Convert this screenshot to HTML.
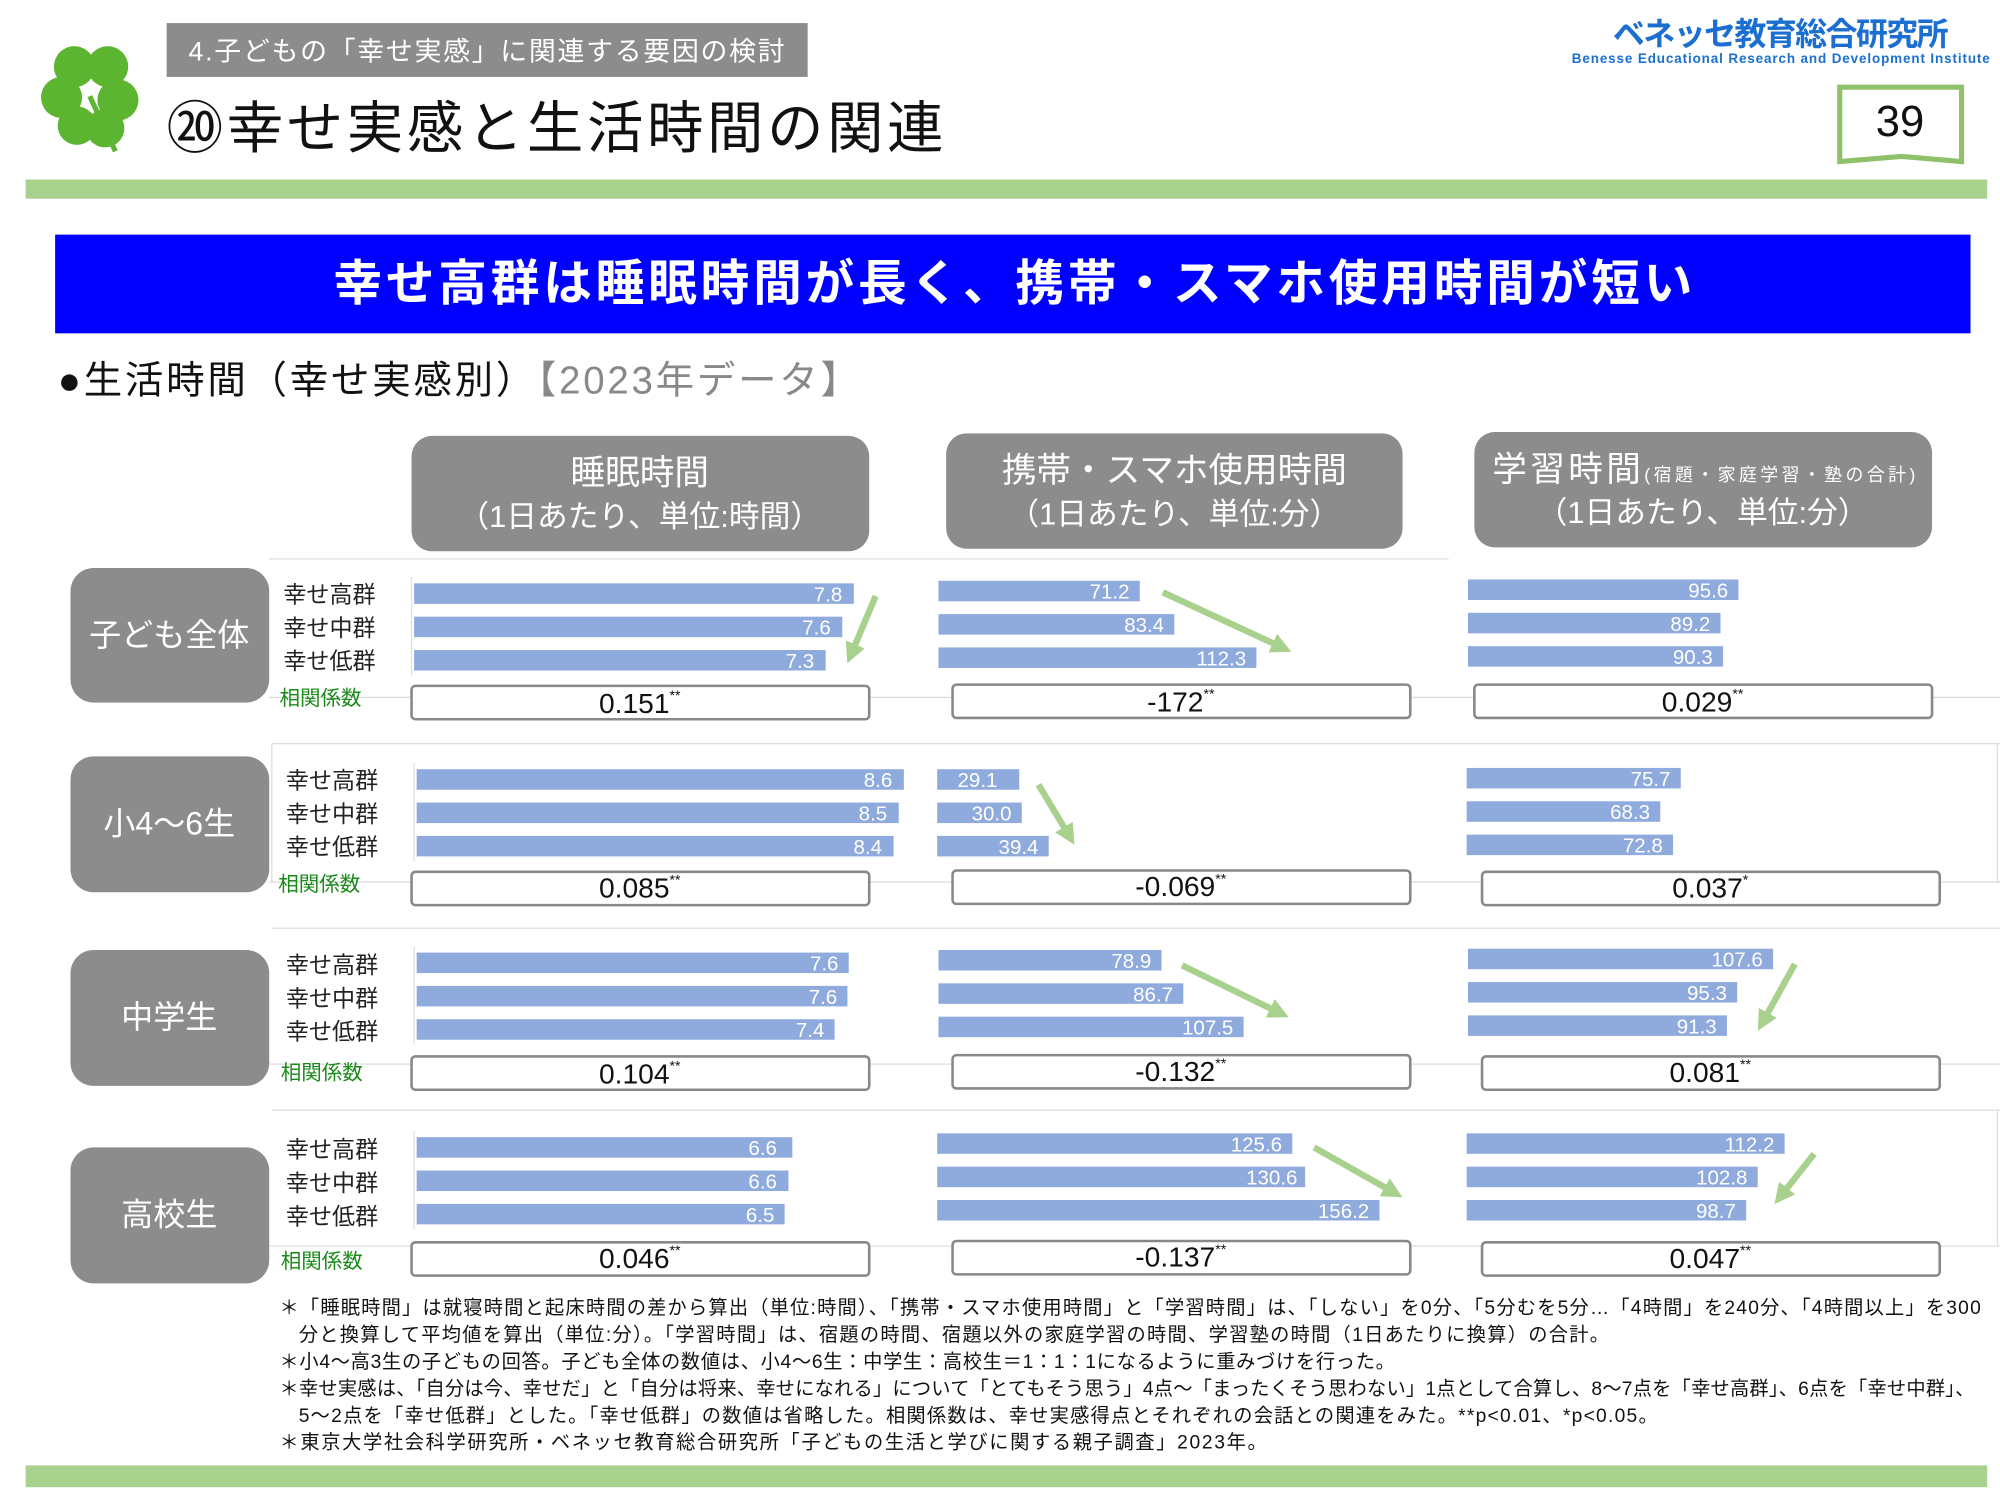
<!DOCTYPE html>
<html><head><meta charset="utf-8"><style>
html,body{margin:0;padding:0;background:#fff;width:2000px;height:1500px;overflow:hidden}
svg text{font-family:"Liberation Sans","Noto Sans CJK JP",sans-serif}
</style></head><body>
<svg width="2000" height="1500" viewBox="0 0 1560 1170" xmlns="http://www.w3.org/2000/svg">
<defs>
<marker id="ah" viewBox="0 0 10 10" refX="5" refY="5" markerWidth="3.2" markerHeight="3.2" orient="auto"><path d="M0,0 L10,5 L0,10 z" fill="#a9d18e"/></marker>
</defs>
<rect width="1560" height="1170" fill="#fff"/>
<g fill="#5cb531">
<circle cx="58" cy="52" r="16"/><circle cx="84" cy="52" r="16"/><circle cx="48" cy="76" r="16"/><circle cx="92" cy="78" r="16"/><circle cx="60" cy="98" r="15"/><circle cx="82" cy="100" r="15"/>
</g>
<path d="M70,75 L90,118" stroke="#5cb531" stroke-width="4"/>
<rect x="130" y="18" width="500" height="42" fill="#8c8c8c"/>
<text x="147" y="47" font-size="21" fill="#fff" textLength="465">4.子どもの「幸せ実感」に関連する要因の検討</text>
<text x="130" y="115" font-size="44" fill="#111" textLength="606">⑳幸せ実感と生活時間の関連</text>
<text x="1258" y="35" font-size="25" fill="#1a6fd0" font-weight="bold" textLength="262">ベネッセ教育総合研究所</text>
<text x="1226" y="49" font-size="10.5" fill="#1a6fd0" font-weight="bold" textLength="326">Benesse  Educational Research and Development Institute</text>
<path d="M1435,68 L1530,68 L1530,126 L1483,122 L1435,126 Z" fill="#fff" stroke="#8fc06a" stroke-width="4"/>
<text x="1482" y="106" font-size="34" fill="#111" text-anchor="middle">39</text>
<rect x="20" y="140" width="1530" height="15" fill="#a9d18e"/>
<rect x="43" y="183" width="1494" height="77" fill="#0000ff"/>
<text x="260" y="234" font-size="38" fill="#fff" font-weight="bold" textLength="1060">幸せ高群は睡眠時間が長く、携帯・スマホ使用時間が短い</text>
<text x="45" y="307" font-size="30" fill="#111" textLength="625">●生活時間（幸せ実感別）<tspan fill="#888">【2023年データ】</tspan></text>
<rect x="321" y="340" width="357" height="90" rx="16" fill="#8c8c8c"/>
<text x="499" y="378" font-size="27" fill="#fff" text-anchor="middle">睡眠時間</text>
<text x="499" y="411" font-size="24" fill="#fff" text-anchor="middle">（1日あたり、単位:時間）</text>
<rect x="738" y="338" width="356" height="90" rx="16" fill="#8c8c8c"/>
<text x="916" y="376" font-size="27" fill="#fff" text-anchor="middle">携帯・スマホ使用時間</text>
<text x="916" y="409" font-size="24" fill="#fff" text-anchor="middle">（1日あたり、単位:分）</text>
<rect x="1150" y="337" width="357" height="90" rx="16" fill="#8c8c8c"/>
<text x="1164" y="375" font-size="27" fill="#fff" textLength="330">学習時間<tspan font-size="14">(宿題・家庭学習・塾の合計)</tspan></text>
<text x="1328" y="408" font-size="24" fill="#fff" text-anchor="middle">（1日あたり、単位:分）</text>
<g stroke="#ddd" stroke-width="1" fill="none">
<line x1="210" y1="436" x2="1130" y2="436"/>
<line x1="210" y1="544" x2="1560" y2="544"/>
<line x1="212" y1="580" x2="1560" y2="580"/>
<line x1="212" y1="580" x2="212" y2="688"/>
<line x1="210" y1="688" x2="1560" y2="688"/>
<line x1="212" y1="724" x2="1560" y2="724"/>
<line x1="210" y1="830" x2="1560" y2="830"/>
<line x1="212" y1="866" x2="1560" y2="866"/>
<line x1="1558" y1="580" x2="1558" y2="688"/>
<line x1="1558" y1="866" x2="1558" y2="972"/>
<line x1="210" y1="972" x2="1560" y2="972"/>
</g>
<g fill="#8c8c8c">
<rect x="55" y="443" width="155" height="105" rx="18"/>
<rect x="55" y="590" width="155" height="106" rx="18"/>
<rect x="55" y="741" width="155" height="106" rx="18"/>
<rect x="55" y="895" width="155" height="106" rx="18"/>
</g>
<g font-size="25" fill="#fff" text-anchor="middle">
<text x="132" y="504">子ども全体</text>
<text x="132" y="651">小4～6生</text>
<text x="132" y="802">中学生</text>
<text x="132" y="956">高校生</text>
</g>
<g font-size="18" fill="#222">
<text x="221" y="470">幸せ高群</text><text x="221" y="496">幸せ中群</text><text x="221" y="522">幸せ低群</text>
<text x="223" y="615">幸せ高群</text><text x="223" y="641">幸せ中群</text><text x="223" y="667">幸せ低群</text>
<text x="223" y="759">幸せ高群</text><text x="223" y="785">幸せ中群</text><text x="223" y="811">幸せ低群</text>
<text x="223" y="903">幸せ高群</text><text x="223" y="929">幸せ中群</text><text x="223" y="955">幸せ低群</text>
</g>
<g font-size="16" fill="#1a8a1a">
<text x="218" y="550">相関係数</text><text x="217" y="695">相関係数</text><text x="219" y="842">相関係数</text><text x="219" y="989">相関係数</text>
</g>
<g stroke="#e0e0e0"><line x1="321" y1="450" x2="321" y2="527"/><line x1="323" y1="595" x2="323" y2="672"/><line x1="323" y1="738" x2="323" y2="815"/><line x1="323" y1="882" x2="323" y2="959"/></g>
<g fill="#8faadc">
<rect x="323" y="455" width="343" height="16"/><rect x="323" y="481" width="334" height="16"/><rect x="323" y="507" width="321" height="16"/>
<rect x="732" y="453" width="157" height="16"/><rect x="732" y="479" width="184" height="16"/><rect x="732" y="505" width="248" height="16"/>
<rect x="1145" y="452" width="211" height="16"/><rect x="1145" y="478" width="197" height="16"/><rect x="1145" y="504" width="199" height="16"/>
<rect x="325" y="600" width="380" height="16"/><rect x="325" y="626" width="376" height="16"/><rect x="325" y="652" width="372" height="16"/>
<rect x="731" y="600" width="64" height="16"/><rect x="731" y="626" width="66" height="16"/><rect x="731" y="652" width="87" height="16"/>
<rect x="1144" y="599" width="167" height="16"/><rect x="1144" y="625" width="151" height="16"/><rect x="1144" y="651" width="161" height="16"/>
<rect x="325" y="743" width="337" height="16"/><rect x="325" y="769" width="336" height="16"/><rect x="325" y="795" width="326" height="16"/>
<rect x="732" y="741" width="174" height="16"/><rect x="732" y="767" width="191" height="16"/><rect x="732" y="793" width="238" height="16"/>
<rect x="1145" y="740" width="238" height="16"/><rect x="1145" y="766" width="210" height="16"/><rect x="1145" y="792" width="202" height="16"/>
<rect x="325" y="887" width="293" height="16"/><rect x="325" y="913" width="290" height="16"/><rect x="325" y="939" width="287" height="16"/>
<rect x="731" y="884" width="277" height="16"/><rect x="731" y="910" width="287" height="16"/><rect x="731" y="936" width="345" height="16"/>
<rect x="1144" y="884" width="248" height="16"/><rect x="1144" y="910" width="227" height="16"/><rect x="1144" y="936" width="218" height="16"/>
</g>
<g font-size="16" fill="#fff" text-anchor="end">
<text x="657" y="469">7.8</text><text x="648" y="495">7.6</text><text x="635" y="521">7.3</text>
<text x="881" y="467">71.2</text><text x="908" y="493">83.4</text><text x="972" y="519">112.3</text>
<text x="1348" y="466">95.6</text><text x="1334" y="492">89.2</text><text x="1336" y="518">90.3</text>
<text x="696" y="614">8.6</text><text x="692" y="640">8.5</text><text x="688" y="666">8.4</text>
<text x="778" y="614">29.1</text><text x="789" y="640">30.0</text><text x="810" y="666">39.4</text>
<text x="1303" y="613">75.7</text><text x="1287" y="639">68.3</text><text x="1297" y="665">72.8</text>
<text x="654" y="757">7.6</text><text x="653" y="783">7.6</text><text x="643" y="809">7.4</text>
<text x="898" y="755">78.9</text><text x="915" y="781">86.7</text><text x="962" y="807">107.5</text>
<text x="1375" y="754">107.6</text><text x="1347" y="780">95.3</text><text x="1339" y="806">91.3</text>
<text x="606" y="901">6.6</text><text x="606" y="927">6.6</text><text x="604" y="953">6.5</text>
<text x="1000" y="898">125.6</text><text x="1012" y="924">130.6</text><text x="1068" y="950">156.2</text>
<text x="1384" y="898">112.2</text><text x="1363" y="924">102.8</text><text x="1354" y="950">98.7</text>
</g>
<g fill="#fff" stroke="#888" stroke-width="2">
<rect x="321" y="535" width="357" height="26" rx="3"/><rect x="743" y="534" width="357" height="26" rx="3"/><rect x="1150" y="534" width="357" height="26" rx="3"/>
<rect x="321" y="680" width="357" height="26" rx="3"/><rect x="743" y="679" width="357" height="26" rx="3"/><rect x="1156" y="680" width="357" height="26" rx="3"/>
<rect x="321" y="824" width="357" height="26" rx="3"/><rect x="743" y="823" width="357" height="26" rx="3"/><rect x="1156" y="824" width="357" height="26" rx="3"/>
<rect x="321" y="969" width="357" height="26" rx="3"/><rect x="743" y="968" width="357" height="26" rx="3"/><rect x="1156" y="969" width="357" height="26" rx="3"/>
</g>
<g font-size="22" fill="#111" text-anchor="middle">
<text x="499" y="556">0.151<tspan font-size="11" dy="-10">**</tspan></text>
<text x="921" y="555">-172<tspan font-size="11" dy="-10">**</tspan></text>
<text x="1328" y="555">0.029<tspan font-size="11" dy="-10">**</tspan></text>
<text x="499" y="700">0.085<tspan font-size="11" dy="-10">**</tspan></text>
<text x="921" y="699">-0.069<tspan font-size="11" dy="-10">**</tspan></text>
<text x="1334" y="700">0.037<tspan font-size="11" dy="-10">*</tspan></text>
<text x="499" y="845">0.104<tspan font-size="11" dy="-10">**</tspan></text>
<text x="921" y="843">-0.132<tspan font-size="11" dy="-10">**</tspan></text>
<text x="1334" y="844">0.081<tspan font-size="11" dy="-10">**</tspan></text>
<text x="499" y="989">0.046<tspan font-size="11" dy="-10">**</tspan></text>
<text x="921" y="988">-0.137<tspan font-size="11" dy="-10">**</tspan></text>
<text x="1334" y="989">0.047<tspan font-size="11" dy="-10">**</tspan></text>
</g>
<g stroke="#a9d18e" stroke-width="5" fill="none" marker-end="url(#ah)">
<line x1="683" y1="465" x2="664" y2="510"/>
<line x1="907" y1="462" x2="1000" y2="505"/>
<line x1="810" y1="612" x2="834" y2="652"/>
<line x1="922" y1="753" x2="998" y2="790"/>
<line x1="1400" y1="752" x2="1375" y2="797"/>
<line x1="1025" y1="895" x2="1087" y2="930"/>
<line x1="1415" y1="900" x2="1389" y2="933"/>
</g>
<g font-size="15" fill="#111">
<text x="218" y="1025" textLength="1327">＊「睡眠時間」は就寝時間と起床時間の差から算出（単位:時間）、「携帯・スマホ使用時間」と「学習時間」は、「しない」を0分、「5分むを5分…「4時間」を240分、「4時間以上」を300</text>
<text x="233" y="1046" textLength="1022">分と換算して平均値を算出（単位:分）。「学習時間」は、宿題の時間、宿題以外の家庭学習の時間、学習塾の時間（1日あたりに換算）の合計。</text>
<text x="218" y="1067" textLength="870">＊小4～高3生の子どもの回答。子ども全体の数値は、小4～6生：中学生：高校生＝1：1：1になるように重みづけを行った。</text>
<text x="218" y="1088" textLength="1322">＊幸せ実感は、「自分は今、幸せだ」と「自分は将来、幸せになれる」について「とてもそう思う」4点～「まったくそう思わない」1点として合算し、8～7点を「幸せ高群」、6点を「幸せ中群」、</text>
<text x="233" y="1109" textLength="1060">5～2点を「幸せ低群」とした。「幸せ低群」の数値は省略した。相関係数は、幸せ実感得点とそれぞれの会話との関連をみた。**p&lt;0.01、*p&lt;0.05。</text>
<text x="218" y="1130" textLength="770">＊東京大学社会科学研究所・ベネッセ教育総合研究所「子どもの生活と学びに関する親子調査」2023年。</text>
</g>
<rect x="20" y="1143" width="1530" height="17" fill="#a9d18e"/>
</svg>
</body></html>
